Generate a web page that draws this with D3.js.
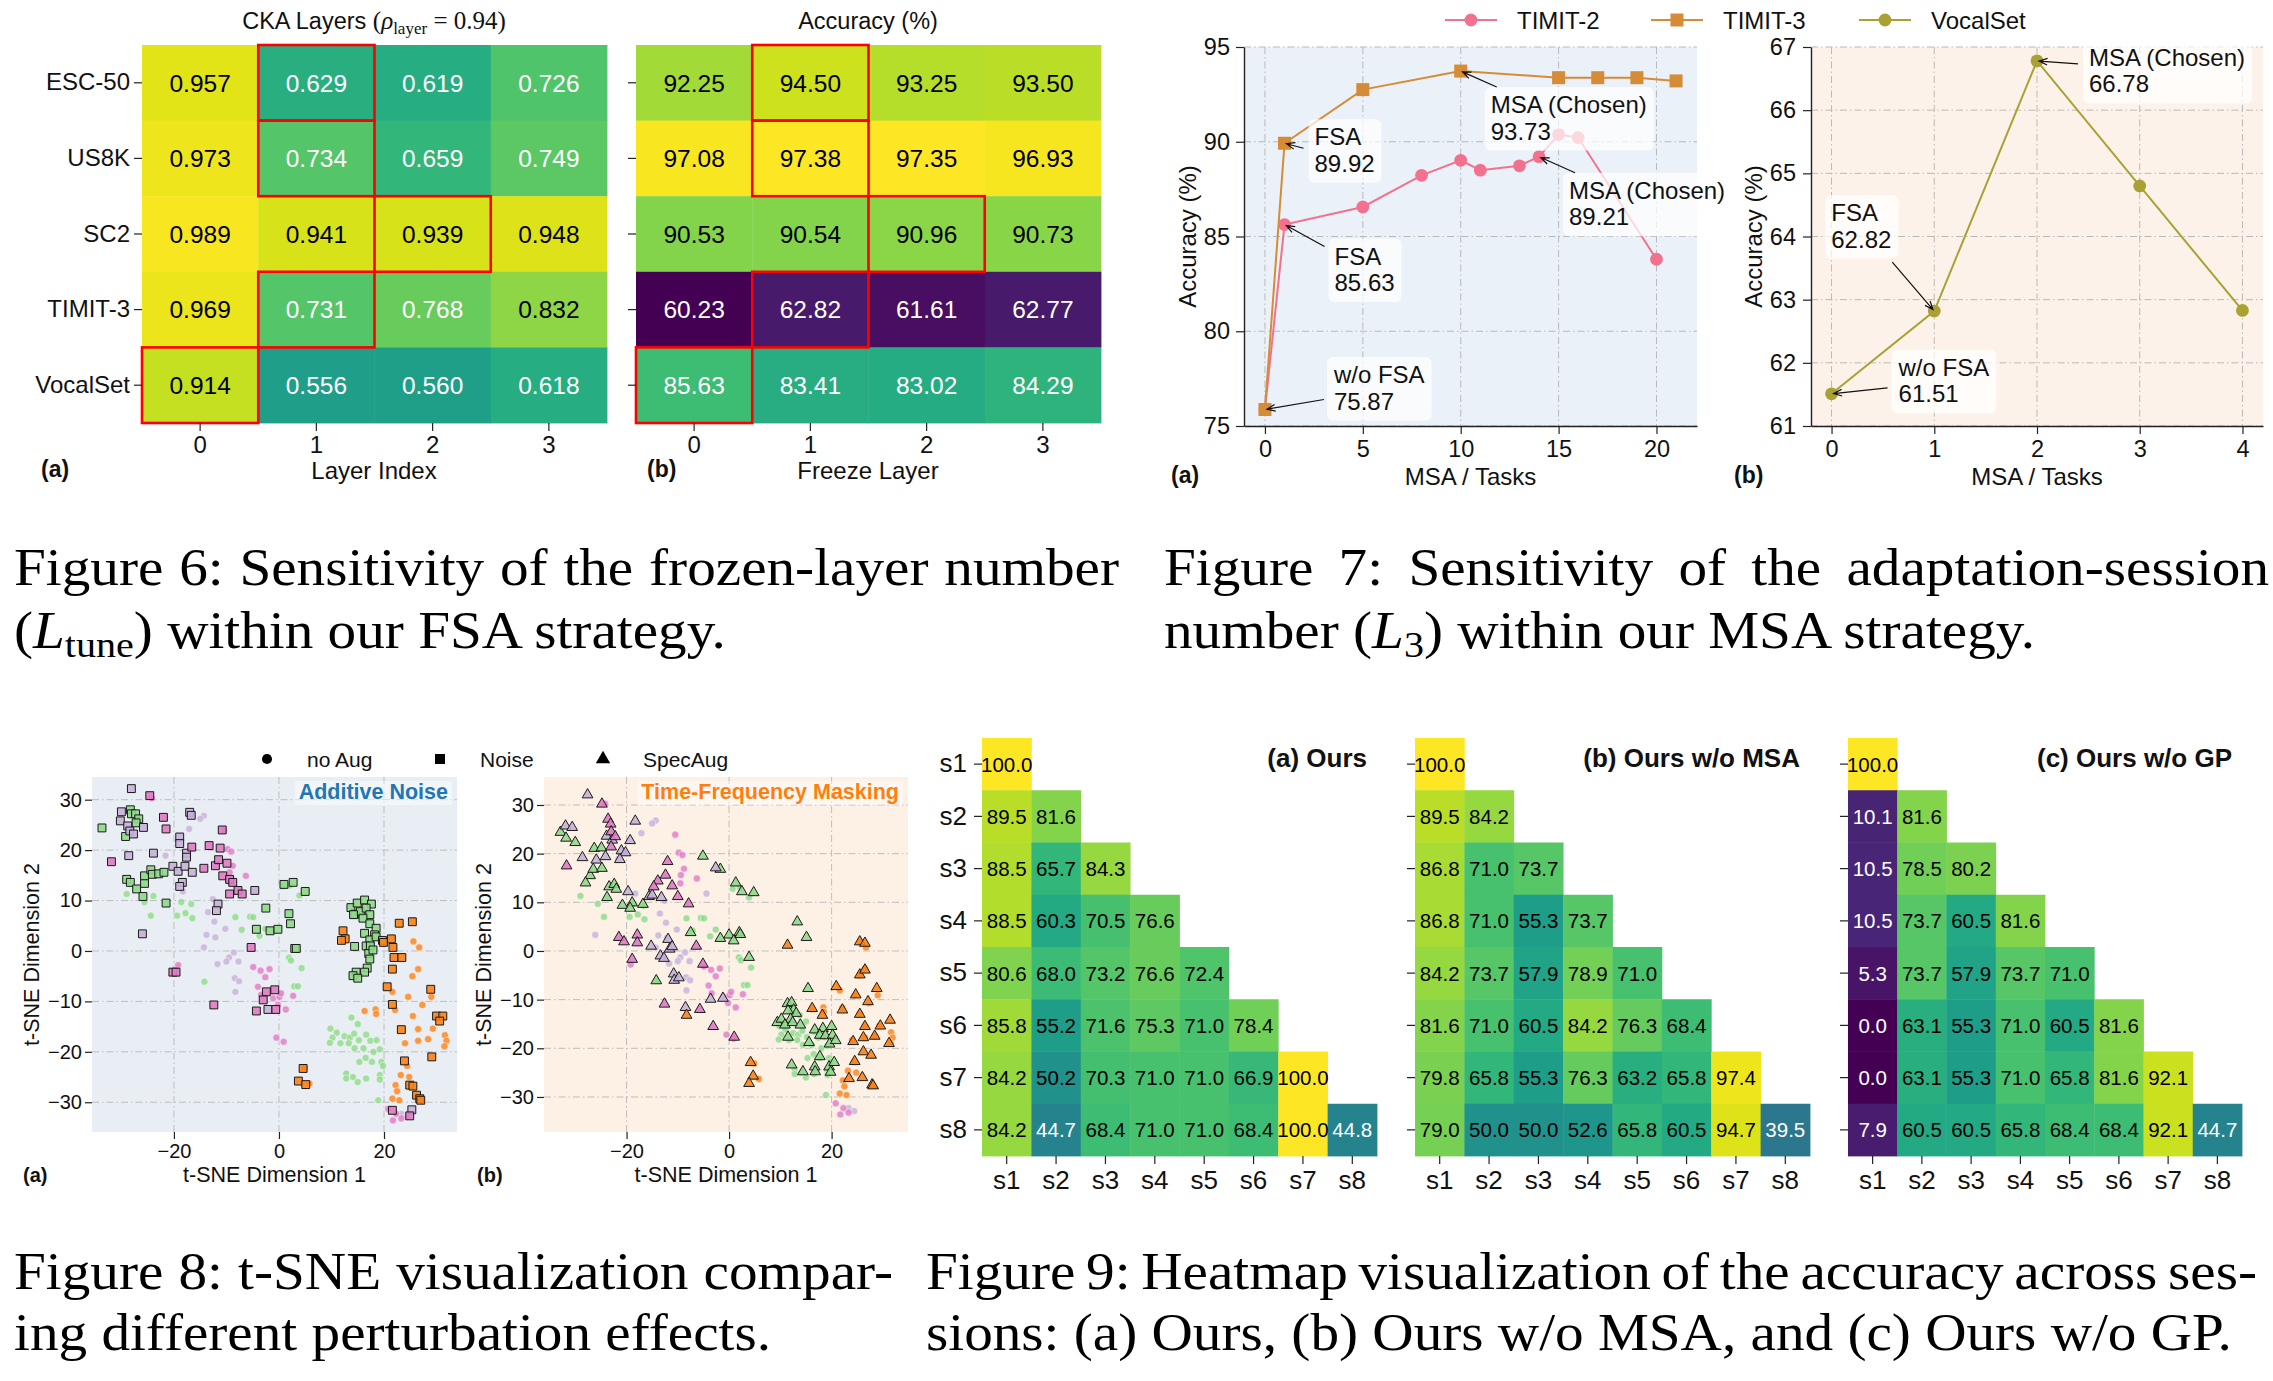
<!DOCTYPE html>
<html>
<head>
<meta charset="utf-8">
<script src="https://cdn.jsdelivr.net/npm/d3@7"></script>
<style>
  body { margin: 0; background: #fff; }
  svg { display: block; }
</style>
</head>
<body>
<svg id="fig" width="2273" height="1381"></svg>
<script>
// ---------------- Figure 6 data ----------------
const datasets6 = ['ESC-50', 'US8K', 'SC2', 'TIMIT-3', 'VocalSet'];
const layerIdx = [0, 1, 2, 3];
const ckaValues = [
    [0.957, 0.629, 0.619, 0.726],
    [0.973, 0.734, 0.659, 0.749],
    [0.989, 0.941, 0.939, 0.948],
    [0.969, 0.731, 0.768, 0.832],
    [0.914, 0.556, 0.560, 0.618]];
const freezeAcc = [
    [92.25, 94.50, 93.25, 93.50],
    [97.08, 97.38, 97.35, 96.93],
    [90.53, 90.54, 90.96, 90.73],
    [60.23, 62.82, 61.61, 62.77],
    [85.63, 83.41, 83.02, 84.29]];
const chosenLayer = [1, 1, 2, 1, 0];

// ---------------- Figure 7 data ----------------
const timit2X = [0, 1, 5, 8, 10, 11, 13, 14, 15, 16, 20];
const timit2Y = [75.87, 85.63, 86.56, 88.23, 89.02, 88.50, 88.73, 89.21, 90.38, 90.22, 83.80];
const timit3X = [0, 1, 5, 10, 15, 17, 19, 21];
const timit3Y = [75.87, 89.92, 92.75, 93.73, 93.38, 93.38, 93.38, 93.21];
const vocalX = [0, 1, 2, 3, 4];
const vocalY = [61.51, 62.82, 66.78, 64.80, 62.83];

// ---------------- Figure 8 data (t-SNE points) ----------------
const noAugGreen = [[-29,11.3],[-25.6,9.7],[-23.9,10.9],[-24.4,7.0],[-19.4,7.0],[-18.6,9.7],[-17.8,7.5],[-16.7,9.3],
    [-16.5,6.5],[-8.3,6.7],[-7.1,4.2],[-5.5,6.8],[-4.9,6.7],[-3.7,3.0],[-2.6,4.4],[-14.2,-6.1],[1.9,-1.3],[2.3,-1.9],
    [4.3,-3.4],[2.9,-7.0],[3.6,-7.0],[3.9,11.0],[0.7,12.8],[2.1,13.0],
    [9.8,-15.4],[11,-16.2],[10.2,-17.2],[9.7,-18.2],[11.7,-18.3],[12.5,-16.9],[13.5,-17.2],[13.8,-13.2],[15,-14.5],
    [14.3,-16.4],[15.2,-17.7],[13.3,-18.3],[14.4,-19.3],[16.1,-19.3],[16.6,-16.6],[17.4,-17.8],[16.5,-21.2],[18.0,-20.0],
    [18.6,-17.7],[19.2,-19.5],[15.3,-22],[17.7,-22],[19.5,-22],[19.8,-22.8],[12.8,-24.3],[14.1,-25],[12.8,-25.3],
    [15,-26],[16.6,-25.3],[19.2,-24.6],[19.2,-25.5],[18.9,-29.6]];
const noAugLavender = [[-14.3,26.8],[-15,26.2],[-17.1,24.2],[-21.6,18.9],[-18.3,11.8],[-12.6,10.3],[-13.5,7.7],[-12.3,5.8],
    [-10.2,4.4],[-13.8,3.2],[-12.1,2.7],[-14.3,0.7],[-8.6,-0.3],[-9.5,-1.3],[-10,-2.1],[-7.7,-2.1],[-11.7,-2.6],[-8.4,-5.4],
    [-7.6,-6],[-8.3,-8.1],[-26.1,3.3],[-4.4,11.8],[23.3,-32.3],[24.4,-32.9]];
const noAugPink = [[-24.2,30.3],[-10.5,23.9],[-9.8,20.2],[-9.1,19.7],[-8.8,16.9],[-9.4,15.6],[-6.3,14.9],[-9.5,13.9],[-19.2,-2.8],
    [-4.9,-3.2],[-3.5,-3.9],[-1.8,-3.6],[-2.6,-5.2],[-4.0,-7.1],[-3.4,-8.7],[-1.1,-9.4],[0.1,-9.1],[0.4,-8.4],[2.7,-8.9],
    [-0.2,-10.7],[1.3,-11.6],[-0.5,-17.2],[0.9,-18.0],[20.8,-31.3],[21.7,-33.6],[23.3,-33.2],[22.3,-32.3]];
const noAugOrange = [[16.3,-11.9],[18.4,-11.6],[18.5,-12.5],[21.6,-8.1],[22.1,-11.7],[25.6,1.9],[26.7,0.7],[26.5,-3.6],
    [25.4,-5.0],[24.6,-9.1],[29.0,-9.1],[27.3,-10.7],[25.5,-12.9],[29.3,-15.4],[26.5,-15.5],[31.6,-16.7],[31.9,-17.8],
    [31.5,-18.9],[24,-18.3],[26.5,-17.8],[28.4,-17.5],[24.4,-22.8],[23.2,-24.6],[22.2,-26.6],[21.6,-29.3],[22.5,-27.8],
    [22.9,-29.6],[24.8,-25],[5.8,-26.3],[4.9,-23.1]];

const noiseGreen = [[-33.7,24.4],[-28.3,28.0],[-28.1,27.2],[-27.3,27.2],[-26.7,26.2],[-27.2,25.4],[-29.2,22.7],[-29,14.2],
    [-28.3,13.6],[-27.1,12.3],[-25.9,10.8],[-25.6,13.4],[-25.6,14.9],[-24.4,16.1],[-24.1,15.2],[-22.9,15.3],[-21.9,15.6],
    [-21.5,9.5],[0.95,13.2],[2.7,13.6],[5.0,11.8],[-2.5,8.5],[1.9,7.4],[2.2,5.4],[-4.3,4.3],[-1.7,4.0],[-0.2,4.3],[3.0,0.5],
    [3.3,0.5],[13.7,8.6],[14.9,9.5],[16.3,10.1],[17.6,9.3],[14.5,7.3],[15.5,7.8],[16.6,8.5],[17.3,7.2],[14.2,7.2],[16.0,6.5],
    [17.3,5.4],[18.5,4.5],[16.3,3.5],[18.2,3.2],[17.3,2.2],[18.5,2.8],[16.6,1.0],[17.4,1.0],[14.4,0.9],[17.1,-0.5],
    [17.3,-1.6],[16.8,-3.4],[16.3,-4.2],[14.7,-4.2],[14.1,-4.9],[15.0,-5.4],[17.9,0.2],[19.7,2.1]];
const noiseLavender = [[-28.1,32.2],[-30,27.6],[-30.2,25.8],[-28.8,24.8],[-28.4,23.8],[-27.7,23.2],[-25.8,24.5],[-28.6,18.9],
    [-23.9,19.4],[-17,27.5],[-16.7,26.9],[-18.9,22.6],[-18.9,21.3],[-17.6,19.4],[-17.6,18.6],[-20.2,16.8],[-19.2,15.8],
    [-17.9,16.8],[-16.5,15.6],[-18.4,13.6],[-18.9,12.8],[-11.6,9.3],[-11.9,8.0],[-4.6,12.0],[-26,3.4],[-2.1,-11.6],[25.3,-31.5]];
const noisePink = [[-24.6,30.8],[-22,26.5],[-21.5,24.2],[-31.9,17.7],[-16.6,20.6],[-13.3,20.9],[-10.8,24.0],[-11.2,20.4],
    [-14.3,16.4],[-12.1,16.9],[-11.5,18.1],[-9.9,17.4],[-10.7,14.9],[-9.4,14.2],[-8.8,13.6],[-9.4,11.3],[-7.8,12.0],[-7.0,11.3],
    [-5.3,0.7],[-20.2,-4.2],[-19.6,-4.2],[-12.4,-10.7],[-2.4,-8.1],[-0.8,-7.7],[-3.0,-9.7],[-4.3,-11.9],[-0.6,-11.6],
    [21.6,-31.6],[24.9,-32.7]];
const noiseOrange = [[12.2,4.0],[12.6,2.4],[11.9,2.1],[19.9,1.7],[21.4,2.4],[21.7,0.7],[21.9,-1.3],[23.4,-1.3],[22.9,5.5],
    [25.4,5.8],[21.6,-3.6],[20.6,-7.1],[28.9,-7.6],[21.6,-10.6],[30,-12.9],[31.2,-12.9],[30.6,-13.9],[23.3,-15.6],[29.1,-21.0],
    [23.9,-21.8],[4.6,-23.3],[3.7,-25.8],[5.1,-26.5],[24.9,-26.6],[25.5,-26.8],[26.2,-28.6],[26.8,-29.3],[27.0,-29.6]];

const specGreen = [[-32.9,24.4],[-31.8,23.2],[-30,22.3],[-26.3,21.1],[-24.9,21.2],[-27.1,15.5],[-28,14],[-26.5,16.8],
    [-24.8,17],[-23.4,13.2],[-22.4,13.7],[-22,12.7],[-23.8,11],[-20.8,9.4],[-18.9,9.9],[-19.3,8.8],[-16.8,9.6],[-5.1,19.5],
    [-1.7,16.8],[1.3,14],[2.5,12.2],[4.8,12],[-7.5,3.8],[-1.7,2.6],[0,3.3],[0.9,2.1],[2,3.8],[2.2,3.4],[3.9,-1.3],[-14.2,-6.1],
    [13.3,6.0],[15.1,2.8],[15.4,-7.7],[11.4,-10.8],[12.2,-10.6],[12.6,-12.1],[13.1,-12.8],[11.5,-12.3],[12,-14],[9.4,-14.7],
    [10.2,-14],[10.9,-15.2],[12.4,-14.7],[13.9,-15.2],[11.5,-17.7],[15.6,-18.8],[16.7,-16.2],[18.3,-15.9],[17.7,-17.3],
    [18.8,-17.4],[20,-15.5],[20.2,-17.3],[19.6,-19.1],[20.8,-18.4],[17.7,-21.7],[12.2,-23.4],[14.4,-24.8],[16.7,-23.8],
    [16.8,-24.8],[19.5,-23.8],[19.8,-24.9],[20.5,-22.9]];
const specLavender = [[-27.6,32.1],[-31.9,25.7],[-30.6,25.4],[-28.6,19.2],[-25.9,18.7],[-24.1,19.4],[-23.9,23.6],[-22.8,22.8],
    [-21,20.6],[-20.2,20.2],[-21.3,18.8],[-18.3,26.7],[-19.3,22.7],[-19.7,12.2],[-15.6,11.2],[-15,11.5],[-13.2,11],
    [-11.9,2.4],[-11.6,0.4],[-11.1,0.9],[-13.4,-1],[-12.7,-1.5],[-15.2,1],[-10.8,-4.7],[-10.7,-6],[-9.8,-5.5],[-8.5,-11.6],
    [-2.6,17.1],[-1.2,-9.7],[-3.6,-9.9]];
const specPink = [[-24.8,30.2],[-23.6,27.1],[-23.1,26.1],[-23,24.5],[-23,21.4],[-22.2,23.5],[-31.7,17.5],[-12,18.4],
    [-12.4,15.6],[-13.9,14.4],[-14.7,13.2],[-11.1,13.4],[-10,11.2],[-7.9,9.7],[-21.5,2.8],[-20.5,1.9],[-17.9,3.3],[-17.9,1.7],
    [-18.9,-1.7],[-6.4,1.0],[-5.1,-2.7],[-12.6,-10.9],[-5.7,-12.0],[-3.1,-15.5],[1,-17.7]];
const specOrange = [[11.4,1.2],[25.5,1.9],[26.5,1.6],[25.5,-4.9],[26.5,-3.9],[20.9,-7.3],[24.7,-9.0],[27.1,-10.4],[28.8,-7.7],
    [16.2,-11.8],[18.2,-13.2],[22.1,-12.1],[25.5,-13],[26.5,-15.5],[26.2,-17.8],[29.5,-15.4],[31.4,-14.2],[31.2,-19],
    [28.4,-17.5],[24.2,-18.6],[26.2,-20.7],[27.7,-21.4],[24.5,-22.7],[23.4,-26.2],[26,-26],[27.9,-27.5],[28.1,-27.7],
    [4.2,-22.9],[4.7,-25.7],[3.9,-27.2],[-8.3,-13.2]];

// ---------------- Figure 9 data ----------------
const sessions = ['s1', 's2', 's3', 's4', 's5', 's6', 's7', 's8'];
const accOurs = [[100.0], [89.5, 81.6], [88.5, 65.7, 84.3], [88.5, 60.3, 70.5, 76.6],
    [80.6, 68.0, 73.2, 76.6, 72.4], [85.8, 55.2, 71.6, 75.3, 71.0, 78.4],
    [84.2, 50.2, 70.3, 71.0, 71.0, 66.9, 100.0], [84.2, 44.7, 68.4, 71.0, 71.0, 68.4, 100.0, 44.8]];
const accNoMSA = [[100.0], [89.5, 84.2], [86.8, 71.0, 73.7], [86.8, 71.0, 55.3, 73.7],
    [84.2, 73.7, 57.9, 78.9, 71.0], [81.6, 71.0, 60.5, 84.2, 76.3, 68.4],
    [79.8, 65.8, 55.3, 76.3, 63.2, 65.8, 97.4], [79.0, 50.0, 50.0, 52.6, 65.8, 60.5, 94.7, 39.5]];
const accNoGP = [[100.0], [10.1, 81.6], [10.5, 78.5, 80.2], [10.5, 73.7, 60.5, 81.6],
    [5.3, 73.7, 57.9, 73.7, 71.0], [0.0, 63.1, 55.3, 71.0, 60.5, 81.6],
    [0.0, 63.1, 55.3, 71.0, 65.8, 81.6, 92.1], [7.9, 60.5, 60.5, 65.8, 68.4, 68.4, 92.1, 44.7]];

/******************************************************************************/

const svg = d3.select('#fig');
const SANS = '"Liberation Sans", Arial, Helvetica, sans-serif';
const SERIF = '"Liberation Serif", "Times New Roman", serif';
const INK = '#222';
svg.attr('font-family', SANS);

// Plain text helper.
function label(parent, x, y, str, size, anchor, weight) {
    return parent.append('text')
        .attr('x', x).attr('y', y)
        .attr('font-size', size)
        .attr('text-anchor', anchor || 'start')
        .attr('font-weight', weight || 'normal')
        .attr('fill', '#111')
        .text(str);
}

// Give an axis the look of the matplotlib ones.
function styleAxis(sel, size, keepDomain) {
    sel.attr('font-family', SANS).attr('font-size', size);
    sel.selectAll('.tick line').attr('stroke', INK).attr('stroke-width', 1.2);
    sel.selectAll('.tick text').attr('fill', '#111');
    if (keepDomain) sel.select('.domain').attr('stroke', INK).attr('stroke-width', 1.4);
    else sel.select('.domain').remove();
}

// Annotated heatmap (used by figure 6 and figure 9).
function heatmap(o) {
    const g = svg.append('g');
    const x = d3.scaleBand().domain(o.cols).range([o.left, o.right]);
    const y = d3.scaleBand().domain(o.rows).range([o.top, o.bottom]);
    const color = d3.scaleSequential(d3.interpolateViridis).domain(o.domain);
    const cells = [];
    o.values.forEach((row, i) => row.forEach((v, j) => cells.push({i: i, j: j, v: v})));
    g.selectAll('rect.cell').data(cells).enter().append('rect')
        .attr('x', d => x(o.cols[d.j]))
        .attr('y', d => y(o.rows[d.i]))
        .attr('width', x.bandwidth() + 0.4)
        .attr('height', y.bandwidth() + 0.4)
        .attr('fill', d => color(d.v));
    g.selectAll('text.val').data(cells).enter().append('text')
        .attr('x', d => x(o.cols[d.j]) + x.bandwidth() / 2)
        .attr('y', d => y(o.rows[d.i]) + y.bandwidth() / 2)
        .attr('dy', '0.36em')
        .attr('text-anchor', 'middle')
        .attr('font-size', o.cellFont)
        .attr('fill', d => d.v < o.whiteBelow ? '#fff' : '#000')
        .text(d => o.fmt(d.v));
    // Highlighted (chosen) cells.
    if (o.highlight) {
        g.selectAll('rect.pick').data(o.highlight).enter().append('rect')
            .attr('x', (c, i) => x(o.cols[c]))
            .attr('y', (c, i) => y(o.rows[i]))
            .attr('width', x.bandwidth())
            .attr('height', y.bandwidth())
            .attr('fill', 'none')
            .attr('stroke', '#ff0000')
            .attr('stroke-width', 2.6);
    }
    const ax = g.append('g')
        .attr('transform', 'translate(0,' + o.bottom + ')')
        .call(d3.axisBottom(x).tickSize(8).tickPadding(o.xPad));
    styleAxis(ax, o.tickFont);
    const ay = g.append('g')
        .attr('transform', 'translate(' + o.left + ',0)')
        .call(d3.axisLeft(y).tickSize(8).tickPadding(o.yPad)
            .tickFormat(o.yLabels ? null : () => ''));
    styleAxis(ay, o.tickFont);
    return g;
}

// ---------------- Figure 6 ----------------
heatmap({rows: datasets6, cols: layerIdx, values: ckaValues, domain: [0, 1],
    left: 142, right: 607, top: 45, bottom: 423, cellFont: 24.5, tickFont: 24,
    fmt: d3.format('.3f'), whiteBelow: 0.8, highlight: chosenLayer,
    yLabels: true, xPad: 5, yPad: 4});
heatmap({rows: datasets6, cols: layerIdx, values: freezeAcc, domain: d3.extent(freezeAcc.flat()),
    left: 636, right: 1101, top: 45, bottom: 423, cellFont: 24.5, tickFont: 24,
    fmt: d3.format('.2f'), whiteBelow: 88, highlight: chosenLayer,
    yLabels: false, xPad: 5, yPad: 4});

// Titles with the LaTeX-like maths part.
const t6a = svg.append('text').attr('x', 374).attr('y', 29)
    .attr('text-anchor', 'middle').attr('font-size', 23.5).attr('fill', '#111');
t6a.append('tspan').text('CKA Layers ');
t6a.append('tspan').attr('font-family', SERIF).attr('font-size', 25).text('(');
t6a.append('tspan').attr('font-family', SERIF).attr('font-style', 'italic').attr('font-size', 25).text('ρ');
t6a.append('tspan').attr('font-family', SERIF).attr('font-size', 17).attr('dy', 5).text('layer');
t6a.append('tspan').attr('font-family', SERIF).attr('font-size', 25).attr('dy', -5).text(' = 0.94)');
label(svg, 868, 29, 'Accuracy (%)', 23.5, 'middle');
label(svg, 374, 479, 'Layer Index', 24, 'middle');
label(svg, 868, 479, 'Freeze Layer', 24, 'middle');
label(svg, 41, 477, '(a)', 23, 'start', 'bold');
label(svg, 647, 477, '(b)', 23, 'start', 'bold');

// ---------------- Figure 7 ----------------
const dashGrid = '7,3,1.5,3';
const intFmt = d3.format('d');

function linePanel(o) {
    const g = svg.append('g');
    const x = d3.scaleLinear().domain(o.xDomain).range([o.left, o.right]);
    const y = d3.scaleLinear().domain(o.yDomain).range([o.bottom, o.top]);
    g.append('rect')
        .attr('x', o.left).attr('y', o.top)
        .attr('width', o.right - o.left).attr('height', o.bottom - o.top)
        .attr('fill', o.bg);
    g.selectAll('line.gx').data(o.xTicks).enter().append('line')
        .attr('x1', d => x(d)).attr('x2', d => x(d))
        .attr('y1', o.top).attr('y2', o.bottom)
        .attr('stroke', '#b9b9b9').attr('stroke-width', 1).attr('stroke-dasharray', dashGrid);
    g.selectAll('line.gy').data(o.yTicks).enter().append('line')
        .attr('x1', o.left).attr('x2', o.right)
        .attr('y1', d => y(d)).attr('y2', d => y(d))
        .attr('stroke', '#b9b9b9').attr('stroke-width', 1).attr('stroke-dasharray', dashGrid);
    const ax = g.append('g').attr('transform', 'translate(0,' + o.bottom + ')')
        .call(d3.axisBottom(x).tickValues(o.xTicks).tickFormat(intFmt)
            .tickSize(8).tickSizeOuter(0).tickPadding(6));
    styleAxis(ax, 23.5, true);
    const ay = g.append('g').attr('transform', 'translate(' + o.left + ',0)')
        .call(d3.axisLeft(y).tickValues(o.yTicks).tickFormat(intFmt)
            .tickSize(8).tickSizeOuter(0).tickPadding(o.yPad));
    styleAxis(ay, 23.5, true);
    label(g, (o.left + o.right) / 2, 485, 'MSA / Tasks', 24, 'middle');
    label(g, 0, 0, 'Accuracy (%)', 24, 'middle')
        .attr('transform', 'translate(' + o.yLabelX + ',' + ((o.top + o.bottom) / 2) + ') rotate(-90)')
        .attr('dy', '0.35em');
    label(g, o.tagX, 483, o.tag, 23, 'start', 'bold');
    return {g: g, x: x, y: y};
}

function drawSeries(p, xs, ys, color, shape) {
    const pts = xs.map((v, i) => [v, ys[i]]);
    p.g.append('path')
        .attr('d', d3.line().x(d => p.x(d[0])).y(d => p.y(d[1]))(pts))
        .attr('fill', 'none').attr('stroke', color).attr('stroke-width', 2);
    if (shape === 'square') {
        p.g.selectAll(null).data(pts).enter().append('rect')
            .attr('x', d => p.x(d[0]) - 6.5).attr('y', d => p.y(d[1]) - 6.5)
            .attr('width', 13).attr('height', 13).attr('fill', color);
    } else {
        p.g.selectAll(null).data(pts).enter().append('circle')
            .attr('cx', d => p.x(d[0])).attr('cy', d => p.y(d[1]))
            .attr('r', 6.4).attr('fill', color);
    }
}

// Text box with an arrow, in the spirit of matplotlib's annotate.
function annotate(p, xv, yv, lines, textOff, arrowOff) {
    const px = p.x(xv), py = p.y(yv);
    const box = p.g.append('rect');
    const t = p.g.append('text').attr('font-size', 24).attr('fill', '#111');
    lines.forEach((s, k) => t.append('tspan')
        .attr('x', px + textOff[0]).attr('y', py + textOff[1] + k * 26.5).text(s));
    const bb = t.node().getBBox();
    box.attr('x', bb.x - 6).attr('y', bb.y - 4)
        .attr('width', bb.width + 13).attr('height', bb.height + 10)
        .attr('rx', 6).attr('fill', '#fff').attr('fill-opacity', 0.72);
    const sx = px + arrowOff[0], sy = py + arrowOff[1];
    const len = Math.hypot(sx - px, sy - py);
    const ux = (sx - px) / len, uy = (sy - py) / len;
    const ex = px + ux * 2, ey = py + uy * 2;
    const head = 9, a = 0.38;
    const h1 = [ex + head * (ux * Math.cos(a) - uy * Math.sin(a)), ey + head * (uy * Math.cos(a) + ux * Math.sin(a))];
    const h2 = [ex + head * (ux * Math.cos(a) + uy * Math.sin(a)), ey + head * (uy * Math.cos(a) - ux * Math.sin(a))];
    const path = d3.path();
    path.moveTo(sx, sy); path.lineTo(ex, ey);
    path.moveTo(h1[0], h1[1]); path.lineTo(ex, ey); path.lineTo(h2[0], h2[1]);
    p.g.append('path').attr('d', path.toString())
        .attr('fill', 'none').attr('stroke', '#111').attr('stroke-width', 1.2);
}

const pink7 = '#f2718f', orange7 = '#d68b36', olive7 = '#aaa135';

const p7a = linePanel({xDomain: [-1.07, 22.07], yDomain: [75, 95], left: 1244, right: 1697, top: 47, bottom: 426,
    xTicks: [0, 5, 10, 15, 20], yTicks: [75, 80, 85, 90, 95], bg: '#eaf1f8', yPad: 6,
    yLabelX: 1188, tag: '(a)', tagX: 1171});
drawSeries(p7a, timit2X, timit2Y, pink7, 'circle');
drawSeries(p7a, timit3X, timit3Y, orange7, 'square');
annotate(p7a, 1, 89.92, ['FSA', '89.92'], [30, 2], [19, 5]);
annotate(p7a, 1, 85.63, ['FSA', '85.63'], [50, 40], [40, 22]);
annotate(p7a, 0, 75.87, ['w/o FSA', '75.87'], [69, -26.5], [59, -10]);
annotate(p7a, 10, 93.73, ['MSA (Chosen)', '93.73'], [30, 42], [36, 16]);
annotate(p7a, 14, 89.21, ['MSA (Chosen)', '89.21'], [30, 42], [36, 16]);

const p7b = linePanel({xDomain: [-0.2, 4.2], yDomain: [61, 67], left: 1811, right: 2263, top: 47, bottom: 426,
    xTicks: [0, 1, 2, 3, 4], yTicks: [61, 62, 63, 64, 65, 66, 67], bg: '#fdf2e9', yPad: 7,
    yLabelX: 1754, tag: '(b)', tagX: 1734});
drawSeries(p7b, vocalX, vocalY, olive7, 'circle');
annotate(p7b, 2, 66.78, ['MSA (Chosen)', '66.78'], [52, 5], [41, 3]);
annotate(p7b, 1, 62.82, ['FSA', '62.82'], [-103, -90], [-42, -49]);
annotate(p7b, 0, 61.51, ['w/o FSA', '61.51'], [67, -18], [56, -6]);

// Shared legend on top.
const legend7 = [
    {name: 'TIMIT-2', color: pink7, shape: 'circle', x: 1471},
    {name: 'TIMIT-3', color: orange7, shape: 'square', x: 1677},
    {name: 'VocalSet', color: olive7, shape: 'circle', x: 1885}];
legend7.forEach(l => {
    svg.append('line').attr('x1', l.x - 26).attr('x2', l.x + 26).attr('y1', 20).attr('y2', 20)
        .attr('stroke', l.color).attr('stroke-width', 2);
    if (l.shape === 'square') {
        svg.append('rect').attr('x', l.x - 6.5).attr('y', 13.5).attr('width', 13).attr('height', 13).attr('fill', l.color);
    } else {
        svg.append('circle').attr('cx', l.x).attr('cy', 20).attr('r', 6.4).attr('fill', l.color);
    }
    label(svg, l.x + 46, 28.5, l.name, 24);
});

// ---------------- Figure 8 ----------------
const clsColor = {green: '#8fd98a', lavender: '#c6b2d8', pink: '#e07ac4', orange: '#fb8218'};
const noAugSets = [['green', noAugGreen], ['lavender', noAugLavender], ['pink', noAugPink], ['orange', noAugOrange]];

function tsnePanel(o) {
    const g = svg.append('g');
    const x = d3.scaleLinear().domain(o.xDomain).range([o.left, o.right]);
    const y = d3.scaleLinear().domain(o.yDomain).range([o.bottom, o.top]);
    const xt = [-20, 0, 20], yt = [-30, -20, -10, 0, 10, 20, 30];
    g.append('rect').attr('x', o.left).attr('y', o.top)
        .attr('width', o.right - o.left).attr('height', o.bottom - o.top).attr('fill', o.bg);
    g.selectAll('line.gx').data(xt).enter().append('line')
        .attr('x1', d => x(d)).attr('x2', d => x(d)).attr('y1', o.top).attr('y2', o.bottom)
        .attr('stroke', '#bdbdbd').attr('stroke-dasharray', dashGrid);
    g.selectAll('line.gy').data(yt).enter().append('line')
        .attr('x1', o.left).attr('x2', o.right).attr('y1', d => y(d)).attr('y2', d => y(d))
        .attr('stroke', '#bdbdbd').attr('stroke-dasharray', dashGrid);
    // Clean embeddings first, augmented ones on top.
    noAugSets.forEach(s => {
        g.selectAll(null).data(s[1]).enter().append('circle')
            .attr('cx', d => x(d[0])).attr('cy', d => y(d[1])).attr('r', 3.6)
            .attr('fill', clsColor[s[0]]).attr('fill-opacity', 0.8)
            .attr('stroke', '#fff').attr('stroke-width', 0.5);
    });
    const sym = d3.symbol().type(o.shape === 'square' ? d3.symbolSquare : d3.symbolTriangle).size(o.shape === 'square' ? 62 : 50);
    o.sets.forEach(s => {
        g.selectAll(null).data(s[1]).enter().append('path')
            .attr('d', sym)
            .attr('transform', d => 'translate(' + x(d[0]) + ',' + y(d[1]) + ')')
            .attr('fill', clsColor[s[0]]).attr('fill-opacity', 0.9)
            .attr('stroke', '#1a1a1a').attr('stroke-width', 1);
    });
    const ax = g.append('g').attr('transform', 'translate(0,' + o.bottom + ')')
        .call(d3.axisBottom(x).tickValues(xt).tickSize(7).tickPadding(5));
    styleAxis(ax, 20);
    const ay = g.append('g').attr('transform', 'translate(' + o.left + ',0)')
        .call(d3.axisLeft(y).tickValues(yt).tickSize(7).tickPadding(3));
    styleAxis(ay, 20);
    // Panel title in its light box.
    const tt = label(g, o.right - 9, 799, o.title, 21.5, 'end', 'bold').attr('fill', o.titleColor);
    const bb = tt.node().getBBox();
    g.insert('rect', () => tt.node())
        .attr('x', bb.x - 4).attr('y', bb.y + 1).attr('width', bb.width + 8).attr('height', bb.height)
        .attr('fill', '#fff').attr('fill-opacity', 0.45);
    label(g, (o.left + o.right) / 2, 1182, 't-SNE Dimension 1', 21.5, 'middle');
    label(g, 0, 0, 't-SNE Dimension 2', 21.5, 'middle')
        .attr('transform', 'translate(' + o.yLabelX + ',' + ((o.top + o.bottom) / 2) + ') rotate(-90)')
        .attr('dy', '0.35em');
    label(g, o.tagX, 1182, o.tag, 20, 'start', 'bold');
}

tsnePanel({xDomain: [-35.6, 33.9], yDomain: [-35.9, 34.5], left: 92, right: 457, top: 777, bottom: 1132,
    bg: '#e9eef5', shape: 'square', title: 'Additive Noise', titleColor: '#1f77b4',
    sets: [['green', noiseGreen], ['lavender', noiseLavender], ['pink', noisePink], ['orange', noiseOrange]],
    yLabelX: 31, tag: '(a)', tagX: 23});
tsnePanel({xDomain: [-36.1, 34.9], yDomain: [-37.2, 35.75], left: 544, right: 908, top: 777, bottom: 1132,
    bg: '#fdf1e6', shape: 'triangle', title: 'Time-Frequency Masking', titleColor: '#ff7f0e',
    sets: [['green', specGreen], ['lavender', specLavender], ['pink', specPink], ['orange', specOrange]],
    yLabelX: 483, tag: '(b)', tagX: 477});

// Marker legend above the two panels.
const legend8 = [
    {name: 'no Aug', type: d3.symbolCircle, size: 80, x: 267},
    {name: 'Noise', type: d3.symbolSquare, size: 100, x: 440},
    {name: 'SpecAug', type: d3.symbolTriangle, size: 90, x: 603}];
legend8.forEach(l => {
    svg.append('path').attr('d', d3.symbol().type(l.type).size(l.size)())
        .attr('transform', 'translate(' + l.x + ',759)').attr('fill', '#000');
    label(svg, l.x + 40, 766.5, l.name, 21);
});

// ---------------- Figure 9 ----------------
const fig9 = [
    {values: accOurs, left: 982, right: 1377, title: '(a) Ours', labels: true},
    {values: accNoMSA, left: 1415, right: 1810, title: '(b) Ours w/o MSA', labels: false},
    {values: accNoGP, left: 1848, right: 2242, title: '(c) Ours w/o GP', labels: false}];
fig9.forEach(f => {
    heatmap({rows: sessions, cols: sessions, values: f.values, domain: [0, 100],
        left: f.left, right: f.right, top: 738, bottom: 1156, cellFont: 20.5, tickFont: 26,
        fmt: d3.format('.1f'), whiteBelow: 47, yLabels: f.labels, xPad: 7, yPad: 7});
    label(svg, f.right - 10, 767, f.title, 26, 'end', 'bold');
});

// ---------------- Captions ----------------
const CAP_F = 52, CAP_SX = 1.1;

function captionLine(x, y, fullWidth) {
    const t = svg.append('text')
        .attr('transform', 'translate(' + x + ',' + y + ') scale(' + CAP_SX + ',1)')
        .attr('font-family', SERIF).attr('font-size', CAP_F).attr('fill', '#000');
    t.justify = function () {
        const n = (t.text().match(/ /g) || []).length;
        const w = t.node().getComputedTextLength();
        if (fullWidth && n) t.attr('word-spacing', (fullWidth / CAP_SX - w) / n);
        return t;
    };
    return t;
}
function mathSub(t, base, sub) {
    t.append('tspan').attr('font-style', 'italic').text(base);
    t.append('tspan').attr('font-size', CAP_F * 0.7).attr('dy', CAP_F * 0.17).text(sub);
    return t.append('tspan').attr('dy', -CAP_F * 0.17);
}

captionLine(14, 585, 1105).text('Figure 6: Sensitivity of the frozen-layer number').justify();
let c = captionLine(14, 648);
c.append('tspan').text('(');
mathSub(c, 'L', 'tune').text(') within our FSA strategy.');

captionLine(1164, 585, 1105).text('Figure 7: Sensitivity of the adaptation-session').justify();
c = captionLine(1164, 648);
c.append('tspan').text('number (');
mathSub(c, 'L', '3').text(') within our MSA strategy.');

captionLine(14, 1289, 879).text('Figure 8: t-SNE visualization compar-').justify();
captionLine(14, 1350).text('ing different perturbation effects.');
captionLine(926, 1289, 1331).text('Figure 9: Heatmap visualization of the accuracy across ses-').justify();
captionLine(926, 1350).text('sions: (a) Ours, (b) Ours w/o MSA, and (c) Ours w/o GP.');
</script>
</body>
</html>
